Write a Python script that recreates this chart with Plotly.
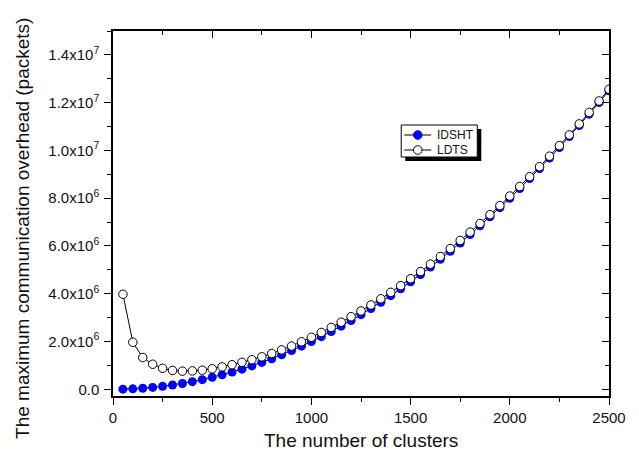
import numpy as np
import plotly.graph_objects as go

# Number of clusters
clusters = [50, 100, 150, 200, 250, 300, 350, 400, 450, 500,
            550, 600, 650, 700, 750, 800, 850, 900, 950, 1000,
            1050, 1100, 1150, 1200, 1250, 1300, 1350, 1400, 1450, 1500,
            1550, 1600, 1650, 1700, 1750, 1800, 1850, 1900, 1950, 2000,
            2050, 2100, 2150, 2200, 2250, 2300, 2350, 2400, 2450, 2500]

# Maximum communication overhead, in millions of packets
idsht_m = [0.005, 0.02, 0.045, 0.08, 0.125, 0.18, 0.245, 0.32, 0.405, 0.50,
           0.605, 0.72, 0.845, 0.98, 1.125, 1.28, 1.445, 1.62, 1.805, 2.00,
           2.205, 2.42, 2.645, 2.88, 3.125, 3.38, 3.645, 3.92, 4.205, 4.50,
           4.805, 5.12, 5.445, 5.78, 6.125, 6.48, 6.845, 7.22, 7.605, 8.00,
           8.405, 8.82, 9.245, 9.68, 10.125, 10.58, 11.045, 11.52, 12.005, 12.50]

ldts_m = [3.98, 1.97, 1.33, 1.05, 0.88, 0.79, 0.76, 0.77, 0.80, 0.86,
          0.94, 1.03, 1.13, 1.24, 1.36, 1.50, 1.65, 1.81, 1.99, 2.18,
          2.38, 2.59, 2.81, 3.04, 3.28, 3.53, 3.79, 4.06, 4.34, 4.63,
          4.93, 5.24, 5.56, 5.89, 6.23, 6.58, 6.94, 7.31, 7.69, 8.09,
          8.49, 8.90, 9.32, 9.76, 10.20, 10.65, 11.11, 11.59, 12.07, 12.56]

series_names = ["IDSHT", "LDTS"]

y_tickvals = [0, 2e6, 4e6, 6e6, 8e6, 1.0e7, 1.2e7, 1.4e7]
y_ticktext = ["0.0", "2.0x10<sup>6</sup>", "4.0x10<sup>6</sup>", "6.0x10<sup>6</sup>",
              "8.0x10<sup>6</sup>", "1.0x10<sup>7</sup>", "1.2x10<sup>7</sup>",
              "1.4x10<sup>7</sup>"]
x_tickvals = [0, 500, 1000, 1500, 2000, 2500]

x_title = "The number of clusters"
y_title = "The maximum communication overhead (packets)"

FONT = "Liberation Sans, Arial, sans-serif"
W, H = 639, 457
L, R, T, B = 113, 608.6, 31, 396  # plot area edges in pixels
X_RANGE = [0, 2500]
Y_RANGE = [-0.28e6, 15.0e6]

idsht = np.array(idsht_m) * 1e6
ldts = np.array(ldts_m) * 1e6

fig = go.Figure()
fig.add_trace(go.Scatter(
    x=clusters, y=idsht, mode="lines+markers", name=series_names[0],
    line=dict(color="black", width=1),
    marker=dict(symbol="circle", size=9, color="#0000ff", line=dict(width=0)),
    showlegend=False, hoverinfo="skip"))
fig.add_trace(go.Scatter(
    x=clusters, y=ldts, mode="lines+markers", name=series_names[1],
    line=dict(color="black", width=1),
    marker=dict(symbol="circle", size=8.5, color="white",
                line=dict(color="black", width=1)),
    showlegend=False, hoverinfo="skip"))
# empty trace that carries the mirrored top/right frame axes
fig.add_trace(go.Scatter(x=[None], y=[None], xaxis="x2", yaxis="y2",
                         showlegend=False, hoverinfo="skip"))

axis_common = dict(showgrid=False, zeroline=False, showline=True,
                   linecolor="black", linewidth=1.5, tickcolor="black",
                   tickwidth=1.2, tickfont=dict(family=FONT, size=15, color="#111"))

fig.update_layout(
    width=W, height=H,
    margin=dict(l=L, r=W - R, t=T, b=H - B, pad=0),
    paper_bgcolor="white", plot_bgcolor="white",
    xaxis=dict(range=X_RANGE, tickvals=x_tickvals, ticks="outside", ticklen=7,
               minor=dict(ticks="outside", ticklen=4, dtick=250, tick0=0,
                          tickcolor="black", tickwidth=1.2),
               **axis_common),
    yaxis=dict(range=Y_RANGE, tickvals=y_tickvals, ticktext=y_ticktext,
               ticks="outside", ticklen=7, ticklabelstandoff=2,
               minor=dict(ticks="outside", ticklen=4, dtick=1e6, tick0=0,
                          tickcolor="black", tickwidth=1.2),
               **axis_common),
    xaxis2=dict(range=X_RANGE, overlaying="x", side="top", anchor="y2",
                tickvals=x_tickvals, ticks="inside", ticklen=7,
                showticklabels=False,
                minor=dict(ticks="inside", ticklen=4, dtick=250, tick0=0,
                           tickcolor="black", tickwidth=1.2),
                **axis_common),
    yaxis2=dict(range=Y_RANGE, overlaying="y", side="right", anchor="x2",
                tickvals=y_tickvals, ticks="inside", ticklen=7,
                showticklabels=False,
                minor=dict(ticks="inside", ticklen=4, dtick=1e6, tick0=0,
                           tickcolor="black", tickwidth=1.2),
                **axis_common),
    showlegend=False,
)


def px_x(p):
    return (p - L) / (R - L)


def px_y(p):
    return (B - p) / (B - T)


# Axis titles
fig.add_annotation(text=x_title, xref="paper", yref="paper",
                   x=px_x(361), y=px_y(440), xanchor="center", yanchor="middle",
                   showarrow=False, font=dict(family=FONT, size=19, color="#111"))
fig.add_annotation(text=y_title, xref="paper", yref="paper", textangle=-90,
                   x=px_x(22), y=px_y(228), xanchor="center", yanchor="middle",
                   showarrow=False, font=dict(family=FONT, size=19, color="#111"))

# Legend box with drop shadow
shapes = [
    dict(type="rect", xref="paper", yref="paper",
         x0=px_x(405), x1=px_x(481), y0=px_y(161), y1=px_y(129),
         fillcolor="black", line=dict(width=0)),
    dict(type="rect", xref="paper", yref="paper",
         x0=px_x(401), x1=px_x(477), y0=px_y(157), y1=px_y(125),
         fillcolor="white", line=dict(color="black", width=1)),
]
rows = [(135, "#0000ff", 0), (150, "white", 1)]
for ypix, fill, lw in rows:
    shapes.append(dict(type="line", xref="paper", yref="paper",
                       x0=px_x(404), x1=px_x(431), y0=px_y(ypix), y1=px_y(ypix),
                       line=dict(color="black", width=1)))
    shapes.append(dict(type="circle", xref="paper", yref="paper",
                       xsizemode="pixel", ysizemode="pixel",
                       xanchor=px_x(417.5), yanchor=px_y(ypix),
                       x0=-4.3, x1=4.3, y0=-4.3, y1=4.3,
                       fillcolor=fill,
                       line=dict(color="black" if lw else "#0000ff", width=1)))
fig.update_layout(shapes=shapes)
for (ypix, _, _), name in zip(rows, series_names):
    fig.add_annotation(text=name, xref="paper", yref="paper",
                       x=px_x(435), y=px_y(ypix), xanchor="left", yanchor="middle",
                       showarrow=False, font=dict(family=FONT, size=12, color="#111"))

fig.write_html("out.html")
